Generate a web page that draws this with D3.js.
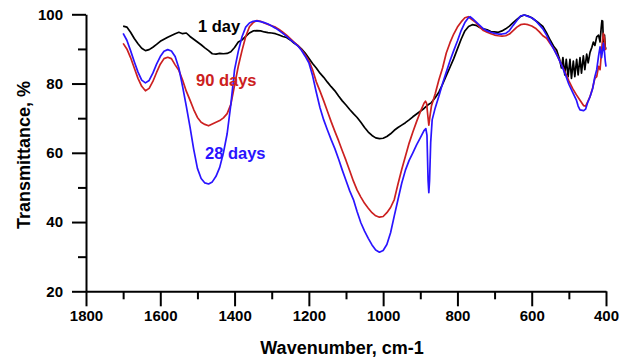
<!DOCTYPE html>
<html>
<head>
<meta charset="utf-8">
<script src="https://cdn.jsdelivr.net/npm/d3@7"></script>
<style>
  html, body { margin: 0; padding: 0; background: #fff; }
  svg { display: block; font-family: "Liberation Sans", Arial, sans-serif; }
</style>
</head>
<body>
<svg id="chart" width="633" height="363"></svg>
<script>
// ---------- DATA ----------
const xMajorTicks = [1800, 1600, 1400, 1200, 1000, 800, 600, 400];
const xMinorTicks = [1700, 1500, 1300, 1100, 900, 700, 500];
const yMajorTicks = [20, 40, 60, 80, 100];
const yMinorTicks = [30, 50, 70, 90];
const seriesNames = ["1 day", "90 days", "28 days"];

const oneDayWn = [1700,1690,1680,1670,1660,1650,1640,1630,1620,1610,1600,1590,1580,1570,1560,1550,1540,1530,1520,1510,1500,1490,1480,1470,1460,1450,1440,1430,1420,1410,1400,1390,1380,1370,1360,1350,1340,1330,1320,1310,1300,1290,1280,1270,1260,1250,1240,1230,1220,1210,1200,1190,1180,1170,1160,1150,1140,1130,1120,1110,1100,1090,1080,1070,1060,1050,1040,1030,1020,1010,1000,990,980,970,960,950,940,930,920,910,900,890,880,870,860,850,840,830,820,810,800,790,780,770,760,750,740,730,720,710,700,690,680,670,660,650,640,630,620,610,600,590,580,570,560,550,540,533,525,520,516,511,507,502,497,493,488,484,479,475,470,466,461,457,452,448,443,438,434,430,425,420,416,413,411,409,407,404,402,400];
const oneDayT  = [96.6,96.3,94.8,93.0,91.5,90.2,89.5,89.8,90.5,91.3,92.2,92.8,93.4,93.9,94.4,94.8,94.4,94.6,93.6,92.8,92.0,91.2,90.3,89.5,88.6,88.5,88.7,88.6,88.7,89.2,90.4,92.0,92.6,93.6,94.6,95.2,95.3,95.2,94.9,94.7,94.6,94.4,94.0,93.6,93.3,92.6,91.7,91.0,90.0,88.8,87.3,85.8,84.5,83.0,81.8,80.4,79.1,77.9,76.4,75.0,73.8,72.5,71.3,70.2,68.8,67.3,66.0,65.0,64.3,64.1,64.2,64.7,65.5,66.5,67.3,68.0,68.7,69.5,70.4,71.2,72.0,72.8,73.8,74.5,75.9,77.5,79.8,82.3,84.7,87.2,90.0,92.8,95.2,96.5,97.0,96.8,96.2,95.8,95.5,95.0,94.9,94.8,95.2,95.8,96.6,97.6,98.5,99.4,99.8,99.5,99.0,98.2,97.4,96.5,94.6,92.5,90.6,89.7,87.0,84.5,87.5,82.5,87.0,82.0,87.0,81.5,86.5,82.0,87.0,82.5,87.5,83.0,88.0,84.0,88.5,86.0,89.0,90.5,92.0,91.0,93.5,94.0,92.0,96.0,98.2,98.0,92.0,94.0,90.5,90.0];

const ninetyDaysWn = [1700,1690,1680,1670,1660,1650,1640,1630,1620,1610,1600,1590,1580,1570,1560,1550,1540,1530,1520,1510,1500,1490,1480,1470,1460,1450,1440,1430,1420,1410,1400,1390,1380,1370,1360,1350,1340,1330,1320,1310,1300,1290,1280,1270,1260,1250,1240,1230,1220,1210,1200,1190,1180,1170,1160,1150,1140,1130,1120,1110,1100,1090,1080,1070,1060,1050,1040,1030,1020,1010,1000,990,980,970,960,950,940,930,920,910,900,890,886,883,880,877,874,870,860,850,840,830,820,810,800,790,780,771,760,750,740,730,720,710,700,690,680,670,660,650,640,630,620,610,600,590,580,570,560,550,540,530,520,510,500,490,480,470,460,455,450,443,436,430,425,420,416,413,410,407,404,402,400];
const ninetyDaysT  = [91.6,90.0,87.5,84.5,81.5,79.2,77.9,78.6,80.6,83.2,85.6,87.2,87.6,87.2,85.4,83.8,81.0,77.8,75.2,72.5,70.2,68.8,68.2,67.8,68.3,68.8,69.3,70.1,71.3,74.0,79.5,85.0,89.5,93.6,96.4,97.6,98.2,98.0,97.5,97.1,96.7,96.3,95.6,94.8,94.0,93.0,92.0,91.0,89.8,88.3,86.6,84.0,80.5,77.8,75.0,72.0,69.0,66.2,63.5,60.6,57.8,54.8,51.8,49.2,47.2,45.4,44.0,42.7,41.8,41.4,41.6,42.7,44.2,46.5,51.0,55.2,59.0,62.8,66.0,69.0,71.8,74.3,74.9,74.3,71.0,68.0,70.5,73.5,77.0,81.0,84.5,88.8,91.8,94.3,96.3,97.8,99.0,99.3,98.4,97.6,96.3,95.3,94.8,94.4,94.0,93.8,93.7,93.8,94.3,95.3,96.3,97.0,97.2,97.0,96.6,96.0,95.0,93.8,93.1,91.5,90.0,87.8,85.5,83.3,80.8,78.6,76.8,75.2,73.6,73.5,74.6,76.2,78.7,81.5,82.0,85.0,84.0,88.0,92.0,94.5,93.0,90.0,89.7];

const twentyEightDaysWn = [1700,1690,1680,1670,1660,1650,1640,1630,1620,1610,1600,1590,1580,1570,1560,1550,1540,1530,1520,1510,1500,1490,1480,1470,1460,1450,1440,1430,1420,1410,1400,1390,1380,1370,1360,1350,1340,1330,1320,1310,1300,1290,1280,1270,1260,1250,1240,1230,1220,1210,1200,1190,1180,1170,1160,1150,1140,1130,1120,1110,1100,1090,1080,1070,1060,1050,1040,1030,1020,1010,1000,990,980,970,960,950,940,930,920,910,900,890,885,882,879,877,875,872,868,860,850,840,830,820,810,800,790,780,770,766,760,750,740,730,720,710,700,690,680,670,660,650,640,630,620,610,600,590,580,570,560,550,540,530,520,510,500,490,480,475,470,460,455,450,443,436,430,425,420,416,412,410,407,404,402,400];
const twentyEightDaysT  = [94.5,92.5,89.5,86.3,83.3,81.0,80.2,80.9,83.0,85.6,87.8,89.3,89.8,89.4,87.8,84.5,79.2,73.5,67.5,61.0,55.5,52.6,51.3,51.0,51.6,53.2,55.8,60.0,65.5,74.0,84.0,89.3,93.5,96.3,97.5,98.0,98.1,97.9,97.6,97.2,96.6,96.0,95.3,94.5,93.6,92.7,91.8,90.9,89.6,87.9,86.0,82.3,77.5,73.0,69.5,66.6,63.8,61.2,58.2,55.0,52.0,49.0,46.5,43.0,39.8,37.4,35.3,33.4,31.9,31.3,31.8,33.5,36.9,41.8,46.5,51.2,55.0,57.8,60.0,62.3,64.3,66.4,67.0,65.0,52.0,48.5,52.0,63.0,69.5,72.9,76.3,80.0,83.3,86.6,89.5,92.3,95.3,97.6,99.1,99.3,98.8,97.8,96.8,95.8,95.2,94.8,94.5,94.3,94.3,94.5,95.3,96.8,98.2,99.5,99.8,99.4,99.0,98.2,97.0,95.8,94.0,91.8,89.8,87.8,85.4,82.8,79.8,77.5,75.3,73.5,72.4,72.2,72.6,74.3,76.2,78.5,82.0,84.0,88.0,90.6,87.5,89.0,91.6,89.0,86.5,84.9];

// ---------- LAYOUT ----------
const svg = d3.select("#chart");
const x = d3.scaleLinear().domain([1800, 400]).range([86, 606]);
const y = d3.scaleLinear().domain([20, 100]).range([291.3, 14.3]);

const series = [
  { name: seriesNames[0], wn: oneDayWn, t: oneDayT, color: "#000000", lx: 198, ly: 32 },
  { name: seriesNames[1], wn: ninetyDaysWn, t: ninetyDaysT, color: "#cc2020", lx: 196, ly: 86 },
  { name: seriesNames[2], wn: twentyEightDaysWn, t: twentyEightDaysT, color: "#2a14ff", lx: 205, ly: 159 }
];

const line = d3.line().x(d => x(d[0])).y(d => y(d[1]));

// Axes
const axStyle = g => {
  g.selectAll("path, line").attr("stroke", "#000").attr("stroke-width", 2);
  g.selectAll("text").attr("font-size", "15px").attr("font-weight", "bold").attr("fill", "#000");
};

svg.append("g").attr("transform", "translate(0,291.3)")
  .call(d3.axisBottom(x).tickValues(xMinorTicks).tickSize(8).tickFormat("").tickSizeOuter(0))
  .call(axStyle).call(g => g.select(".domain").remove());
svg.append("g").attr("transform", "translate(0,291.3)")
  .call(d3.axisBottom(x).tickValues(xMajorTicks).tickSize(15).tickPadding(4).tickSizeOuter(0).tickFormat(d3.format("d")))
  .call(axStyle);

svg.append("g").attr("transform", "translate(86,0)")
  .call(d3.axisLeft(y).tickValues(yMinorTicks).tickSize(8).tickFormat("").tickSizeOuter(0))
  .call(axStyle).call(g => g.select(".domain").remove());
svg.append("g").attr("transform", "translate(86,0)")
  .call(d3.axisLeft(y).tickValues(yMajorTicks).tickSize(14).tickPadding(9).tickSizeOuter(0).tickFormat(d3.format("d")))
  .call(axStyle);

// Lines
series.forEach(s => {
  const pts = s.wn.map((w, i) => [w, s.t[i]]);
  svg.append("path").datum(pts)
    .attr("fill", "none").attr("stroke", s.color).attr("stroke-width", 1.7)
    .attr("stroke-linejoin", "round")
    .attr("d", line);
});

// Series labels
series.forEach(s => {
  svg.append("text").attr("x", s.lx).attr("y", s.ly)
    .attr("font-size", "16.5px").attr("font-weight", "bold").attr("fill", s.color)
    .text(s.name);
});

// Axis titles
svg.append("text").attr("x", 342).attr("y", 354).attr("text-anchor", "middle")
  .attr("font-size", "18px").attr("font-weight", "bold").text("Wavenumber, cm-1");
svg.append("text").attr("transform", "translate(30,155) rotate(-90)").attr("text-anchor", "middle")
  .attr("font-size", "18px").attr("font-weight", "bold").text("Transmittance, %");
</script>
</body>
</html>
